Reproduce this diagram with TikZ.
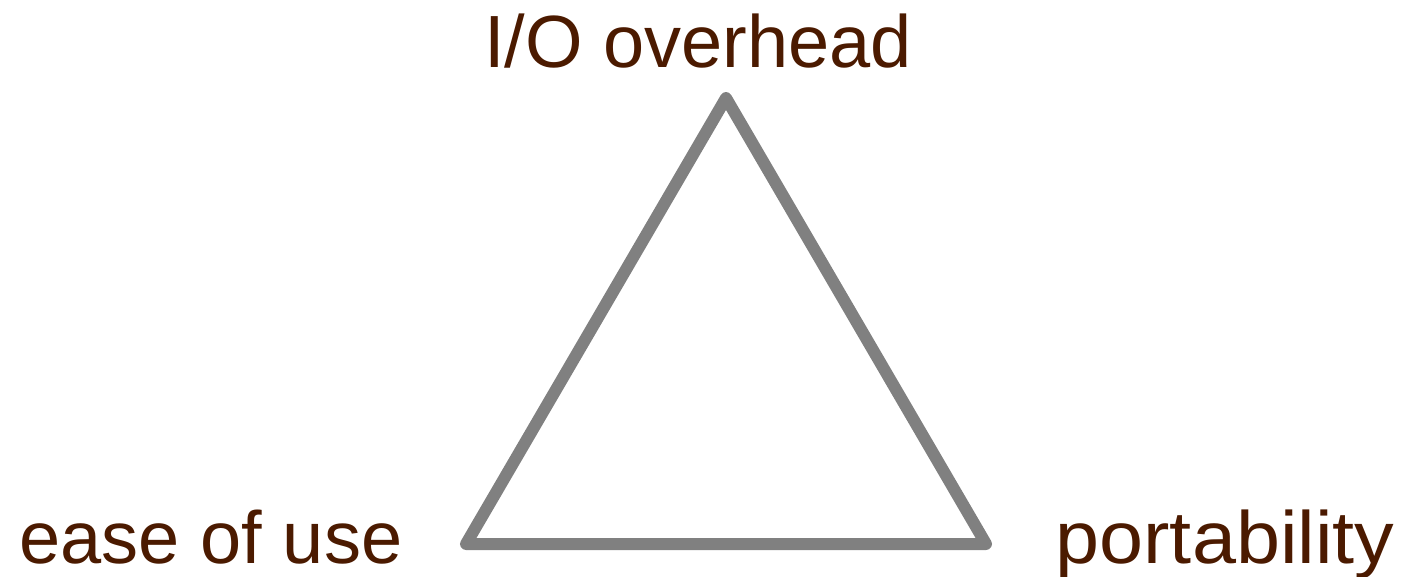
\documentclass[tikz,border=0pt]{standalone}
\usepackage{fontspec}
\setmainfont{Liberation Sans}
\definecolor{labelbrown}{HTML}{4B1A00}
\definecolor{edgegray}{HTML}{808080}
\tikzset{
  lbl/.style={text=labelbrown, font=\fontsize{74}{80}\selectfont, inner sep=0pt, anchor=base},
  edge/.style={draw=edgegray, line width=12pt, line join=round, line cap=round}
}
\begin{document}
\begin{tikzpicture}[x=1pt,y=-1pt]
\useasboundingbox (0,0) rectangle (1402,576);
\clip (0,0) rectangle (1402,576);
\coordinate (top) at (726,98);
\coordinate (bl) at (466,544);
\coordinate (br) at (986,544);
\draw[edge] (top) -- (bl) -- (br) -- cycle;
\node[lbl] (io) at (698,67) {I/O overhead};
\node[lbl] (ease) at (211,563) {ease of use};
\node[lbl, xscale=1.07] (port) at (1225,563) {portability};
\end{tikzpicture}
\end{document}
